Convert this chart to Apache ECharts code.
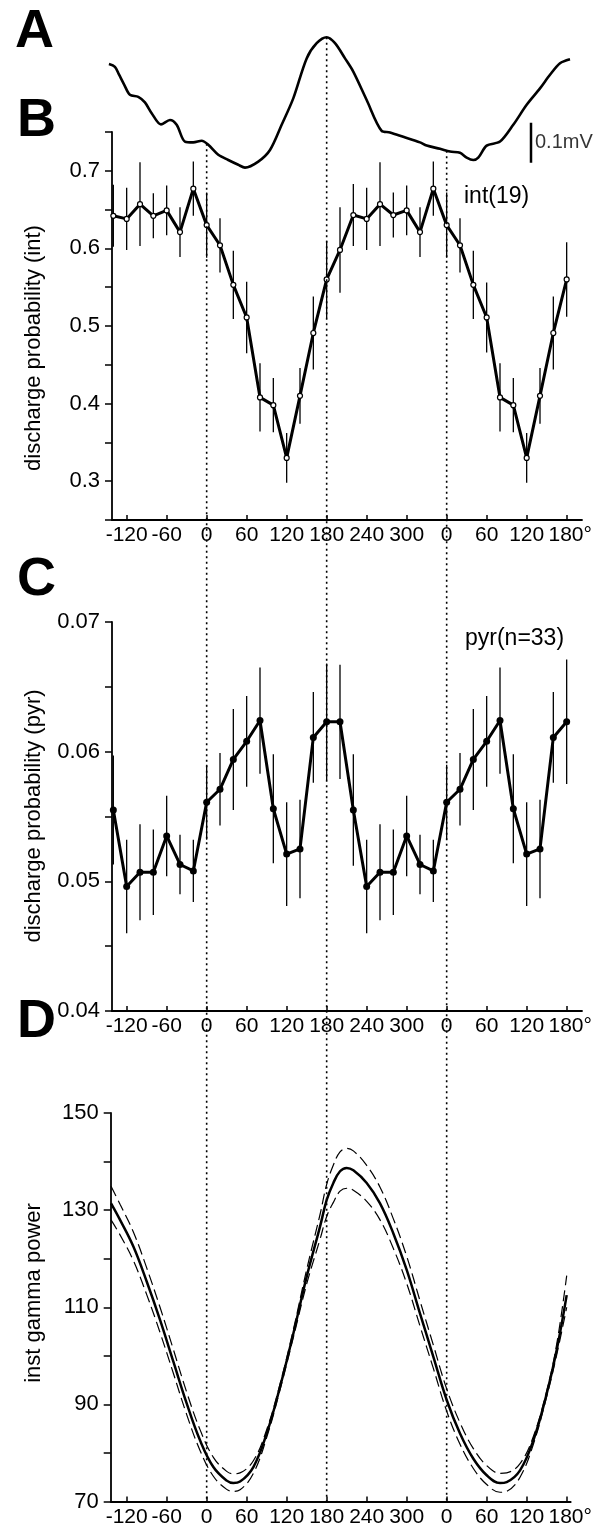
<!DOCTYPE html>
<html>
<head>
<meta charset="utf-8">
<style>
html,body{margin:0;padding:0;background:#fff;}
#c{width:603px;height:1529px;}
</style>
<script src="https://cdn.jsdelivr.net/npm/echarts@6/dist/echarts.min.js"></script>
</head>
<body>
<div id="c"></div>
<script>
// ---------- DATA ----------
// Panel A: averaged LFP trace (phase in degrees, amplitude in mV, arbitrary baseline)
const tracePhase = [-146.6,-137.6,-131.6,-123.6,-115.1,-102.6,-92.6,-82.5,-68.6,-55.1,-45.0,-32.6,-20.1,-7.5,2.4,17.4,32.4,47.4,57.5,77.4,95.0,112.5,129.9,150.0,165.0,180.0,192.5,207.5,219.9,240.0,262.5,275.0,294.9,320.0,330.0,350.0,365.0,380.0,390.0,399.9,407.4,420.0,440.0,459.9,480.0,500.0,515.0,530.0,545.0];
const traceMV    = [0.265,0.258,0.239,0.213,0.188,0.183,0.169,0.142,0.114,0.125,0.113,0.071,0.069,0.073,0.063,0.038,0.025,0.013,0.006,0.021,0.050,0.113,0.179,0.279,0.317,0.332,0.317,0.279,0.246,0.175,0.098,0.094,0.083,0.069,0.061,0.053,0.046,0.043,0.031,0.025,0.031,0.061,0.071,0.113,0.163,0.204,0.238,0.267,0.277];
const scaleBarPhase = [486.5, 486.5];
const scaleBarMV    = [0.018, 0.118];
const scaleBarLabel = '0.1mV';

// Panels B & C: phase bins (degrees)
const binPhase = [-140,-120,-100,-80,-60,-40,-20,0,20,40,60,80,100,120,140,160,180,200,220,240,260,280,300,320,340,360,380,400,420,440,460,480,500,520,540];
// Panel B: interneurons
const intProb = [0.642,0.638,0.657,0.642,0.649,0.621,0.677,0.630,0.604,0.553,0.511,0.408,0.398,0.330,0.410,0.491,0.560,0.598,0.643,0.638,0.657,0.643,0.649,0.621,0.677,0.630,0.604,0.553,0.511,0.408,0.398,0.330,0.410,0.491,0.560];
const intErr  = [0.040,0.040,0.054,0.029,0.032,0.032,0.035,0.042,0.035,0.044,0.046,0.044,0.035,0.032,0.036,0.047,0.050,0.055,0.040,0.040,0.054,0.029,0.032,0.032,0.035,0.042,0.035,0.044,0.045,0.044,0.035,0.032,0.036,0.047,0.048];
// Panel C: pyramidal cells
const pyrProb = [0.0555,0.0496,0.0507,0.0507,0.0535,0.0513,0.0508,0.0561,0.0571,0.0594,0.0608,0.0624,0.0556,0.0521,0.0525,0.0611,0.0623,0.0623,0.0555,0.0496,0.0507,0.0507,0.0535,0.0513,0.0508,0.0561,0.0571,0.0594,0.0608,0.0624,0.0556,0.0521,0.0525,0.0611,0.0623];
const pyrErr  = [0.0042,0.0036,0.0037,0.0033,0.0031,0.0023,0.0024,0.0029,0.0028,0.0039,0.0035,0.0041,0.0042,0.0040,0.0038,0.0035,0.0045,0.0044,0.0043,0.0036,0.0037,0.0033,0.0031,0.0023,0.0024,0.0029,0.0028,0.0039,0.0035,0.0041,0.0042,0.0040,0.0038,0.0035,0.0048];

// Panel D: instantaneous gamma power fit with confidence band
const gammaPhase = [-143.5,-130,-110,-90,-70,-50,-30,-10,10,30,40,50,70,90,110,130,150,170,180,190,200,210,220,240,260,280,300,320,340,360,380,400,420,440,450,470,490,510,525,540];
const gammaMean  = [131.4,128.0,122.5,115.3,107.4,98.8,90.2,82.6,77.1,74.3,73.8,74.1,77.1,84.0,93.6,104.6,116.3,126.6,132.1,135.6,138.0,138.7,138.2,135.6,131.4,125.2,117.7,108.7,99.8,90.9,84.0,78.8,75.4,73.8,74.0,76.4,82.6,92.2,101.2,112.5];
const gammaUpper = [134.9,131.2,125.5,118.1,110.0,101.3,92.5,84.8,79.1,76.2,75.7,75.9,78.4,84.8,94.2,105.4,117.8,129.1,135.3,139.3,142.0,142.7,142.2,139.2,134.7,128.2,120.5,111.3,102.2,93.2,86.2,80.9,77.4,75.8,75.9,77.8,83.4,92.8,102.4,116.5];
const gammaLower = [128.0,124.9,119.6,112.6,104.8,96.4,87.9,80.5,75.2,72.5,72.1,72.4,75.8,83.2,93.0,103.8,114.8,124.0,128.7,131.6,133.9,134.5,134.1,131.8,128.0,122.1,114.9,106.1,97.4,88.6,81.8,76.8,73.5,71.9,72.1,75.0,81.8,91.6,100.2,110.0];

// Axis ticks (phase in degrees, two cycles)
const xTickValues = [-120,-60,0,60,120,180,240,300,360,420,480,540];
const xTickLabels = ['-120','-60','0','60','120','180','240','300','0','60','120','180°'];
const refPhases = [0, 180, 360];

// ---------- CHART ----------
const chart = echarts.init(document.getElementById('c'), null, {renderer:'canvas'});
const BLACK = '#000';
const FONT = 'Liberation Sans, Arial, Helvetica, sans-serif';
const NARROW = "'Liberation Sans Narrow', 'Arial Narrow', Liberation Sans, sans-serif";
const XFS = 21;

function xAxisCfg(gridIndex, min, max) {
  return {
    type:'value', gridIndex, min, max, splitLine:{show:false},
    axisLine:{show:true, onZero:false, lineStyle:{color:BLACK, width:1.8}},
    axisTick:{show:true, inside:true, length:5, customValues:xTickValues, lineStyle:{color:BLACK, width:1.5}},
    axisLabel:{show:true, customValues:xTickValues, showMinLabel:true, showMaxLabel:true, hideOverlap:false,
      margin:5, color:BLACK, fontSize:XFS, fontFamily:NARROW,
      rich:{deg:{fontSize:XFS, fontFamily:NARROW, color:BLACK, padding:[0,0,0,7]}},
      formatter:(v)=>{
        const i = xTickValues.indexOf(Math.round(v));
        if (i < 0) return '';
        const s = xTickLabels[i];
        return s.indexOf('°') >= 0 ? '{deg|' + s + '}' : s;
      }}
  };
}
function yAxisCfg(gridIndex, min, max, interval, fmt) {
  return {
    type:'value', gridIndex, min, max, interval, splitLine:{show:false},
    axisLine:{show:true, onZero:false, lineStyle:{color:BLACK, width:1.8}},
    axisTick:{show:true, inside:false, length:7, lineStyle:{color:BLACK, width:1.5}},
    axisLabel:{show:true, margin:12, color:BLACK, fontSize:22, fontFamily:FONT, formatter:fmt}
  };
}
const isMult = (v, k) => Math.abs(v*k - Math.round(v*k)) < 1e-6;

function errorSeries(xi, yi, phases, vals, errs) {
  return {
    type:'custom', xAxisIndex:xi, yAxisIndex:yi, z:2,
    data: phases.map((p,i)=>[p, vals[i]-errs[i], vals[i]+errs[i]]),
    encode:{x:0, y:[1,2]},
    renderItem:(params, api)=>{
      const a = api.coord([api.value(0), api.value(1)]);
      const b = api.coord([api.value(0), api.value(2)]);
      return {type:'line', shape:{x1:a[0], y1:a[1], x2:b[0], y2:b[1]}, style:{stroke:BLACK, lineWidth:1.3}};
    }
  };
}
const zip = (xs, ys) => xs.map((x,i)=>[x, ys[i]]);

const option = {
  backgroundColor:'#fff',
  animation:false,
  grid:[
    {left:100, width:480, top:30, height:140},
    {left:112, width:470, top:132, height:388},
    {left:112, width:470, top:622, height:389},
    {left:110.7, width:460, top:1113, height:388.5}
  ],
  xAxis:[
    {type:'value', gridIndex:0, min:-160, max:560, show:false},
    xAxisCfg(1, -142, 563),
    xAxisCfg(2, -142, 563),
    xAxisCfg(3, -144, 546)
  ],
  yAxis:[
    {type:'value', gridIndex:0, min:0, max:0.35, show:false},
    yAxisCfg(1, 0.25, 0.75, 0.05, v => isMult(v,10) ? (Math.round(v*10)/10).toFixed(1) : ''),
    yAxisCfg(2, 0.04, 0.07, 0.005, v => isMult(v,100) ? (Math.round(v*100)/100).toFixed(2) : ''),
    yAxisCfg(3, 70, 150, 10, v => ((Math.round(v)-70) % 20 === 0) ? String(Math.round(v)) : '')
  ],
  series:[
    // A
    {type:'line', xAxisIndex:0, yAxisIndex:0, data:zip(tracePhase, traceMV), smooth:0.3, showSymbol:false, symbol:'none',
      lineStyle:{color:BLACK, width:2.6}},
    {type:'line', xAxisIndex:0, yAxisIndex:0, data:zip(scaleBarPhase, scaleBarMV), symbol:'none',
      lineStyle:{color:BLACK, width:2.5}},
    {type:'scatter', xAxisIndex:0, yAxisIndex:0, symbolSize:0,
      data:[[scaleBarPhase[0], (scaleBarMV[0]+scaleBarMV[1])/2]],
      label:{show:true, position:'right', distance:4, formatter:scaleBarLabel, color:BLACK, fontSize:20, fontFamily:FONT}},
    // B
    errorSeries(1, 1, binPhase, intProb, intErr),
    {type:'line', xAxisIndex:1, yAxisIndex:1, z:3, data:zip(binPhase, intProb), symbol:'circle', symbolSize:5,
      lineStyle:{color:BLACK, width:3}, itemStyle:{color:'#fff', borderColor:BLACK, borderWidth:1.2}},
    // C
    errorSeries(2, 2, binPhase, pyrProb, pyrErr),
    {type:'line', xAxisIndex:2, yAxisIndex:2, z:3, data:zip(binPhase, pyrProb), symbol:'circle', symbolSize:7,
      lineStyle:{color:BLACK, width:3}, itemStyle:{color:BLACK, borderColor:BLACK, borderWidth:0}},
    // D
    {type:'line', xAxisIndex:3, yAxisIndex:3, data:zip(gammaPhase, gammaUpper), smooth:0.4, symbol:'none',
      lineStyle:{color:BLACK, width:1.2, type:[11,5]}},
    {type:'line', xAxisIndex:3, yAxisIndex:3, data:zip(gammaPhase, gammaLower), smooth:0.4, symbol:'none',
      lineStyle:{color:BLACK, width:1.2, type:[11,5]}},
    {type:'line', xAxisIndex:3, yAxisIndex:3, data:zip(gammaPhase, gammaMean), smooth:0.4, symbol:'none',
      lineStyle:{color:BLACK, width:2.5}}
  ],
  graphic:{elements:[
    {id:'lA', type:'text', x:15, y:32, style:{text:'A', fill:BLACK, fontSize:54, fontWeight:'bold', fontFamily:FONT, align:'left', verticalAlign:'middle'}},
    {id:'lB', type:'text', x:17, y:121, style:{text:'B', fill:BLACK, fontSize:54, fontWeight:'bold', fontFamily:FONT, align:'left', verticalAlign:'middle'}},
    {id:'lC', type:'text', x:17, y:580, style:{text:'C', fill:BLACK, fontSize:54, fontWeight:'bold', fontFamily:FONT, align:'left', verticalAlign:'middle'}},
    {id:'lD', type:'text', x:17, y:1022, style:{text:'D', fill:BLACK, fontSize:54, fontWeight:'bold', fontFamily:FONT, align:'left', verticalAlign:'middle'}},
    {id:'tB', type:'text', x:34, y:348, rotation:Math.PI/2, style:{text:'discharge probability (int)', fill:BLACK, fontSize:22, fontFamily:FONT, align:'center', verticalAlign:'middle'}},
    {id:'tC', type:'text', x:34, y:816, rotation:Math.PI/2, style:{text:'discharge probability (pyr)', fill:BLACK, fontSize:22, fontFamily:FONT, align:'center', verticalAlign:'middle'}},
    {id:'tD', type:'text', x:34, y:1293, rotation:Math.PI/2, style:{text:'inst gamma power', fill:BLACK, fontSize:22, fontFamily:FONT, align:'center', verticalAlign:'middle'}},
    {id:'nB', type:'text', x:464, y:197, style:{text:'int(19)', fill:BLACK, fontSize:23, fontFamily:FONT, align:'left', verticalAlign:'middle'}},
    {id:'nC', type:'text', x:465, y:639, style:{text:'pyr(n=33)', fill:BLACK, fontSize:23, fontFamily:FONT, align:'left', verticalAlign:'middle'}}
  ]}
};
chart.setOption(option);

// Dotted reference lines at phases 0, 180, 360: from the LFP trace down to the axis of panel D
function traceAt(p) {
  for (let i = 0; i < tracePhase.length-1; i++) {
    if (p >= tracePhase[i] && p <= tracePhase[i+1]) {
      const t = (p - tracePhase[i]) / (tracePhase[i+1] - tracePhase[i]);
      return traceMV[i] + t*(traceMV[i+1]-traceMV[i]);
    }
  }
  return traceMV[0];
}
const lines = refPhases.map((p, k) => {
  const top = chart.convertToPixel({xAxisIndex:0, yAxisIndex:0}, [p, traceAt(p)]);
  const xPix = chart.convertToPixel({xAxisIndex:1}, p);
  const bot = chart.convertToPixel({xAxisIndex:3, yAxisIndex:3}, [p, 70]);
  return {id:'ref'+k, type:'line', z:100, shape:{x1:xPix, y1:top[1], x2:xPix, y2:bot[1]},
    style:{stroke:BLACK, lineWidth:1.6, lineDash:[2,3.5]}};
});
chart.setOption({graphic:{elements:lines}});
</script>
</body>
</html>
